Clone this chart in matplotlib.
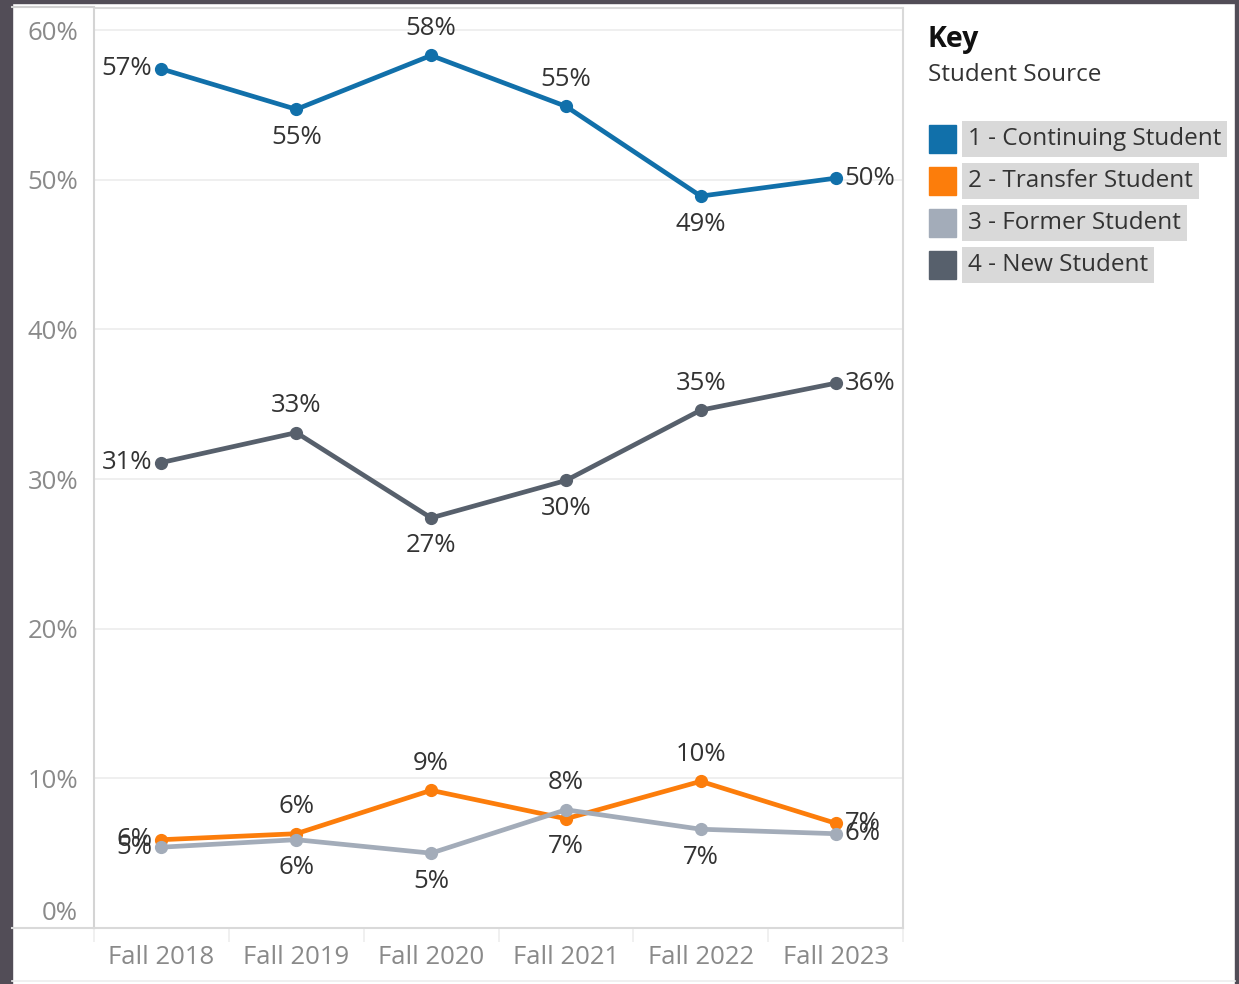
"""
Student source share by fall term, line chart in Tableau style
"""
import matplotlib.pyplot as plt
from matplotlib.patches import Rectangle
from matplotlib.lines import Line2D
from matplotlib.transforms import ScaledTranslation

plt.rcParams['font.family'] = ['Open Sans', 'DejaVu Sans']

terms = ['Fall 2018', 'Fall 2019', 'Fall 2020', 'Fall 2021', 'Fall 2022', 'Fall 2023']
series_names = ['1 - Continuing Student', '2 - Transfer Student',
                '3 - Former Student', '4 - New Student']

continuing = [57.4, 54.7, 58.3, 54.9, 48.9, 50.1]
transfer = [5.9, 6.3, 9.2, 7.3, 9.8, 7.0]
former = [5.4, 5.9, 5.0, 7.9, 6.6, 6.3]
new = [31.1, 33.1, 27.4, 29.9, 34.6, 36.4]

colors = ['#1170aa', '#fc7d0b', '#a3acb9', '#57606c']

# where each point label sits: l=left, a=above, b=below, r=right
place_continuing = ['l', 'b', 'a', 'a', 'b', 'r']
place_transfer = ['l', 'a', 'a', 'b', 'a', 'r']
place_former = ['l', 'b', 'b', 'a', 'b', 'r']
place_new = ['l', 'a', 'b', 'b', 'a', 'r']

W, H = 1239, 984
fig = plt.figure(figsize=(W / 100, H / 100), dpi=100)
fig.patch.set_facecolor('white')

# dark frame around the dashboard
border = '#524d57'
fig.add_artist(Rectangle((0, 0), 12 / W, 1, transform=fig.transFigure, color=border, zorder=0))
fig.add_artist(Rectangle((0, 1 - 3 / H), 1, 3 / H, transform=fig.transFigure, color=border, zorder=0))
fig.add_artist(Rectangle((1 - 4 / W, 0), 4 / W, 1, transform=fig.transFigure, color=border, zorder=0))

ax = fig.add_axes([94 / W, 1 - 928 / H, (903 - 94) / W, (928 - 8) / H])
x = list(range(len(terms)))

offsets = {'l': (-9, 0, 'right', 'center'), 'r': (9, 0, 'left', 'center'),
           'a': (0, 27, 'center', 'center'), 'b': (0, -28, 'center', 'center')}

all_series = [continuing, transfer, former, new]
all_places = [place_continuing, place_transfer, place_former, place_new]
draw_order = [2, 1, 3, 0]
for i in draw_order:
    vals = all_series[i]
    ax.plot(x, vals, color=colors[i], lw=3.4, marker='o', ms=8.5, zorder=3 + i,
            solid_capstyle='round')
    for xi, v, p in zip(x, vals, all_places[i]):
        dx, dy, ha, va = offsets[p]
        ax.annotate(f'{round(v)}%', (xi, v), xytext=(dx, dy), textcoords='offset pixels',
                    ha=ha, va=va, fontsize=18.5, color='#333333', zorder=10)

ax.set_xlim(-0.5, 5.5)
ax.set_ylim(0.13, 61.47)
ax.set_yticks([0, 10, 20, 30, 40, 50, 60])
ax.set_yticklabels(['0%', '10%', '20%', '30%', '40%', '50%', '60%'])
ax.set_xticks(x)
ax.set_xticklabels(terms)
ax.set_xticks([i - 0.5 for i in range(len(terms) + 1)], minor=True)
ax.tick_params(axis='both', which='major', length=0, labelsize=18.5, labelcolor='#8a8a8a')
ax.tick_params(axis='y', pad=11.5)
ax.tick_params(axis='x', pad=12)
ax.tick_params(axis='x', which='minor', length=10, color='#eeeeee', width=1.2)
ax.tick_params(axis='y', which='minor', length=0)
# nudge the 0% label upward like the original
for lab in ax.get_yticklabels():
    if lab.get_text() == '0%':
        lab.set_transform(lab.get_transform() + ScaledTranslation(0, 0.18, fig.dpi_scale_trans))

ax.grid(axis='y', color='#ececec', lw=1.2)
ax.set_axisbelow(True)
for side in ['top', 'right', 'bottom']:
    ax.spines[side].set_color('#d9d9d9')
    ax.spines[side].set_linewidth(1.5)
ax.spines['left'].set_color('#d4d4d4')
ax.spines['left'].set_linewidth(1.5)

# outer frame lines that extend over the axis label area
fig.add_artist(Line2D([12 / W, 94 / W], [1 - 928 / H, 1 - 928 / H], transform=fig.transFigure,
                      color='#d9d9d9', lw=1.5))
fig.add_artist(Line2D([12 / W, 94 / W], [1 - 7 / H, 1 - 7 / H], transform=fig.transFigure,
                      color='#d0d0d0', lw=1.5))
fig.add_artist(Line2D([12 / W, 1 - 4 / W], [1 - 981 / H, 1 - 981 / H], transform=fig.transFigure,
                      color='#eeeeee', lw=1.2))

# legend / key panel
fig.text(928 / W, 1 - 39 / H, 'Key', fontsize=20.5, fontweight='bold', color='#111111',
         ha='left', va='center')
fig.text(928 / W, 1 - 75 / H, 'Student Source', fontsize=17.5, color='#333333',
         ha='left', va='center')
for i, name in enumerate(series_names):
    yc = 139 + 42 * i
    fig.add_artist(Rectangle((929 / W, 1 - (yc + 14) / H), 27 / W, 28 / H,
                             transform=fig.transFigure, color=colors[i]))
    fig.text(968 / W, 1 - yc / H, name, fontsize=17.5, color='#333333', ha='left', va='center',
             bbox=dict(boxstyle='square,pad=0.25', fc='#d9d9d9', ec='none'))

plt.savefig('out.png', dpi=100)
